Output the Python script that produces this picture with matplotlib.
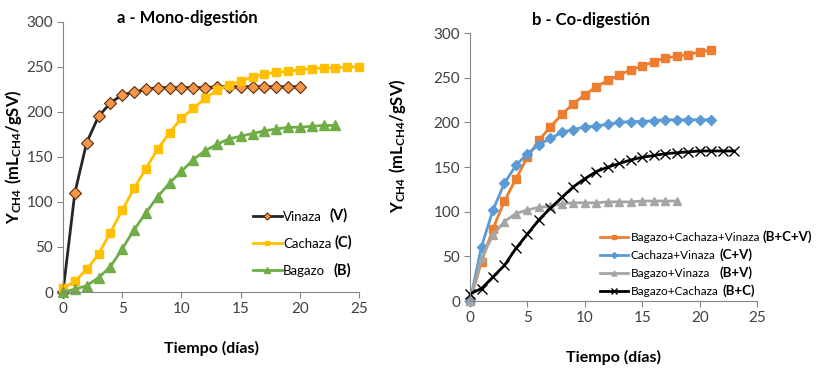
import matplotlib
matplotlib.use('Agg')
import matplotlib.pyplot as plt

plt.rcParams['font.family'] = ['Lato', 'DejaVu Sans']
plt.rcParams['mathtext.fontset'] = 'custom'
plt.rcParams['mathtext.rm'] = 'Lato'
plt.rcParams['mathtext.bf'] = 'Lato:bold'

# ---- data: mono-digestion ----
days_v = list(range(0, 21))
vinaza = [0, 110, 166, 195, 210, 219, 222, 225, 227, 227, 227, 227, 227, 228, 228,
          228, 228, 228, 228, 228, 228]
days_c = list(range(0, 26))
cachaza = [4, 12, 25, 42, 66, 91, 115, 137, 159, 177, 193, 204, 215, 224, 230, 234,
           239, 242, 244, 245, 247, 248, 249, 249, 250, 250]
days_b = list(range(0, 24))
bagazo = [0, 3, 7, 16, 28, 48, 69, 88, 106, 121, 134, 147, 157, 164, 170, 173, 176,
          179, 181, 183, 183, 184, 185, 185]

# ---- data: co-digestion ----
days_bcv = list(range(0, 22))
bcv = [0, 44, 81, 112, 137, 161, 180, 195, 209, 221, 231, 240, 247, 253, 259, 263,
       268, 272, 274, 276, 279, 281]
days_cv = list(range(0, 22))
cv = [0, 61, 102, 132, 152, 165, 175, 182, 189, 192, 195, 196, 198, 200, 201, 201,
      202, 203, 203, 203, 203, 203]
days_bv = list(range(0, 19))
bv = [0, 48, 74, 89, 98, 102, 105, 106, 109, 110, 110, 110, 111, 111, 111, 112, 112,
      112, 112]
days_bc = list(range(0, 24))
bc = [8, 14, 27, 40, 59, 75, 91, 104, 116, 128, 137, 145, 150, 154, 158, 161, 163,
      165, 166, 167, 168, 168, 168, 168]

names_a = ['Vinaza', 'Cachaza', 'Bagazo']
codes_a = ['(V)', '(C)', '(B)']
names_b = ['Bagazo+Cachaza+Vinaza', 'Cachaza+Vinaza', 'Bagazo+Vinaza', 'Bagazo+Cachaza']
codes_b = ['(B+C+V)', '(C+V)', '(B+V)', '(B+C)']

fig = plt.figure(figsize=(8.18, 3.68), dpi=100)
ax1 = fig.add_axes([0.077, 0.2065, 0.362, 0.734])
ax2 = fig.add_axes([0.5746, 0.182, 0.351, 0.728])

spine_col = '#868686'
for ax in (ax1, ax2):
    for s in ('top', 'right'):
        ax.spines[s].set_visible(False)
    for s in ('left', 'bottom'):
        ax.spines[s].set_color(spine_col)
        ax.spines[s].set_linewidth(0.8)
    ax.set_xlim(0, 25)
    ax.set_ylim(0, 300)
    ax.set_xticks([0, 5, 10, 15, 20, 25])
    ax.set_yticks(range(0, 301, 50))
    ax.tick_params(direction='out', length=4, width=0.8, color=spine_col,
                   labelsize=11, labelcolor='#404040', pad=3)
    ax.set_xlabel('Tiempo (días)', fontsize=11.5, fontweight='bold', labelpad=18)
    ax.set_ylabel(r'$\mathbf{Y_{CH4}\ (mL_{CH4}/gSV)}$', fontsize=12)

lw = 2
ax1.plot(days_v, vinaza, color='#262626', lw=lw, marker='D', ms=6,
         mfc='#F79646', mec='#5a2d0c', mew=0.8, clip_on=False, label=names_a[0])
ax1.plot(days_c, cachaza, color='#FFC000', lw=lw, marker='s', ms=6,
         mfc='#FFC000', mec='#FFC000', clip_on=False, label=names_a[1])
ax1.plot(days_b, bagazo, color='#70AD47', lw=lw, marker='^', ms=6.5,
         mfc='#70AD47', mec='#70AD47', clip_on=False, label=names_a[2])
ax1.set_title('a - Mono-digestión', fontsize=12, fontweight='bold', x=0.42, y=0.965)
leg1 = ax1.legend(loc='lower left', bbox_to_anchor=(0.6, 0.012), frameon=False,
                  fontsize=9.5, handlelength=2.2, labelspacing=1.15, markerscale=0.6,
                  handletextpad=0.1)
ax1.yaxis.set_label_coords(-0.13, 0.5)

ax2.plot(days_bcv, bcv, color='#ED7D31', lw=lw, marker='s', ms=5.5,
         mfc='#ED7D31', mec='#ED7D31', clip_on=False, label=names_b[0])
ax2.plot(days_cv, cv, color='#5B9BD5', lw=lw, marker='D', ms=5,
         mfc='#5B9BD5', mec='#5B9BD5', clip_on=False, label=names_b[1])
ax2.plot(days_bv, bv, color='#A5A5A5', lw=lw, marker='^', ms=6,
         mfc='#A5A5A5', mec='#A5A5A5', clip_on=False, label=names_b[2])
ax2.plot(days_bc, bc, color='black', lw=lw, marker='x', ms=7, mew=1.0,
         clip_on=False, label=names_b[3])
ax2.set_title('b - Co-digestión', fontsize=12, fontweight='bold', x=0.42, y=1.0)
leg2 = ax2.legend(loc='lower left', bbox_to_anchor=(0.415, -0.025), frameon=False,
                  fontsize=8.5, handlelength=2.4, labelspacing=0.6, markerscale=0.6,
                  handletextpad=0.2)
ax2.yaxis.set_label_coords(-0.215, 0.58)

# bold codes after each legend label
fig.canvas.draw()
gaps_a = [8, 3, 9]
gaps_b = [3, 4, 10, 4]
for leg, codes, gaps, fs in ((leg1, codes_a, gaps_a, 10.5), (leg2, codes_b, gaps_b, 9.5)):
    for txt, code, g in zip(leg.get_texts(), codes, gaps):
        bb = txt.get_window_extent()
        fig.text(bb.x1 + g, (bb.y0 + bb.y1) / 2 + 1, code, transform=None,
                 fontsize=fs, fontweight='bold', va='center', ha='left')

fig.savefig('out.png', dpi=100)
